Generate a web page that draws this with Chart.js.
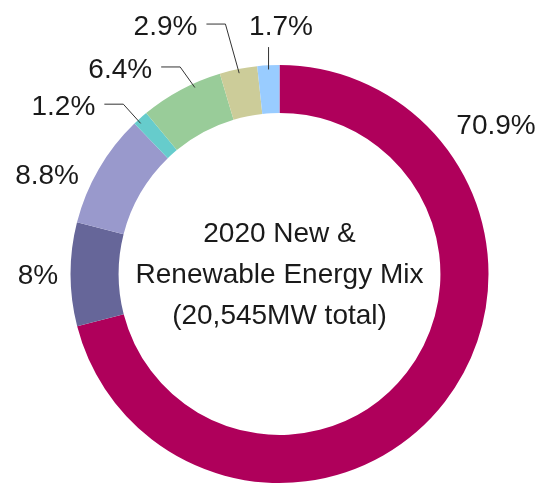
<!DOCTYPE html>
<html>
<head>
<meta charset="utf-8">
<script src="https://cdn.jsdelivr.net/npm/chart.js@4/dist/chart.umd.min.js"></script>
<style>
  html, body { margin: 0; padding: 0; background: #fff; }
  #wrap { width: 545px; height: 484px; }
</style>
</head>
<body>
<div id="wrap"><canvas id="mixChart"></canvas></div>
<script>
// share of 2020 new & renewable capacity, clockwise from 12 o'clock
var sources = ['Source A', 'Source B', 'Source C', 'Source D', 'Source E', 'Source F', 'Source G'];
var shares  = [70.9, 8, 8.8, 1.2, 6.4, 2.9, 1.7];
var colours = ['#AF005B', '#666699', '#9999CC', '#66CCCC', '#99CC99', '#CCCC99', '#99CCFF'];
var titleLines = ['2020 New &', 'Renewable Energy Mix', '(20,545MW total)'];

// where each label sits: angle clockwise from top (deg), distance in outer radii
var labelLayout = [
  { angle: 55.3,  dist: 1.260 },
  { angle: 270,   dist: 1.156 },
  { angle: 293.3, dist: 1.211 },
  { angle: 308.0, dist: 1.312, leader: 'elbow', at: 0.3 },
  { angle: 322.3, dist: 1.246, leader: 'elbow', at: 0.66 },
  { angle: 335.4, dist: 1.310, leader: 'elbow', at: 0.5 },
  { angle: 0.35,  dist: 1.191, leader: 'down',  at: 0.5 }
];

var FONT = '"Liberation Sans", Arial, sans-serif';

var labelPlugin = {
  id: 'sliceLabels',
  afterDraw: function(chart) {
    var ctx = chart.ctx;
    var arcs = chart.getDatasetMeta(0).data;
    var cx = arcs[0].x, cy = arcs[0].y, R = arcs[0].outerRadius;

    ctx.save();
    ctx.font = '28px ' + FONT;
    ctx.fillStyle = '#1a1a1a';
    ctx.strokeStyle = '#333';
    ctx.lineWidth = 1;
    ctx.textAlign = 'center';
    ctx.textBaseline = 'alphabetic';

    arcs.forEach(function(arc, i) {
      var p = labelLayout[i];
      var a = (p.angle - 90) * Math.PI / 180;
      var lx = cx + Math.cos(a) * R * p.dist;
      var ly = cy + Math.sin(a) * R * p.dist;
      var text = shares[i] + '%';
      ctx.fillText(text, lx, ly + 10);

      if (p.leader) {
        var ea = arc.startAngle + (arc.endAngle - arc.startAngle) * p.at;
        var ex = cx + Math.cos(ea) * R * 0.98;
        var ey = cy + Math.sin(ea) * R * 0.98;
        ctx.beginPath();
        if (p.leader === 'down') {
          ctx.moveTo(ex, ly + 22);
          ctx.lineTo(ex, ey);
        } else {
          var hx = lx + ctx.measureText(text).width / 2 + 9;
          ctx.moveTo(hx, ly - 1);
          ctx.lineTo(hx + 19, ly - 1);
          ctx.lineTo(ex, ey);
        }
        ctx.stroke();
      }
    });

    // title in the hole
    ctx.font = '28px ' + FONT;
    titleLines.forEach(function(line, k) {
      ctx.fillText(line, cx, cy - 32 + k * 41);
    });
    ctx.restore();
  }
};

var ctx1 = document.getElementById('mixChart').getContext('2d');
var mixChart = new Chart(ctx1, {
  type: 'doughnut',
  data: {
    labels: sources,
    datasets: [{
      data: shares,
      backgroundColor: colours,
      borderWidth: 0
    }]
  },
  options: {
    responsive: true,
    maintainAspectRatio: false,
    animation: false,
    cutout: '77%',
    layout: { padding: { top: 65, bottom: 1, left: 70, right: 56 } },
    plugins: {
      legend: { display: false },
      tooltip: { enabled: false }
    }
  },
  plugins: [labelPlugin]
});
</script>
</body>
</html>
